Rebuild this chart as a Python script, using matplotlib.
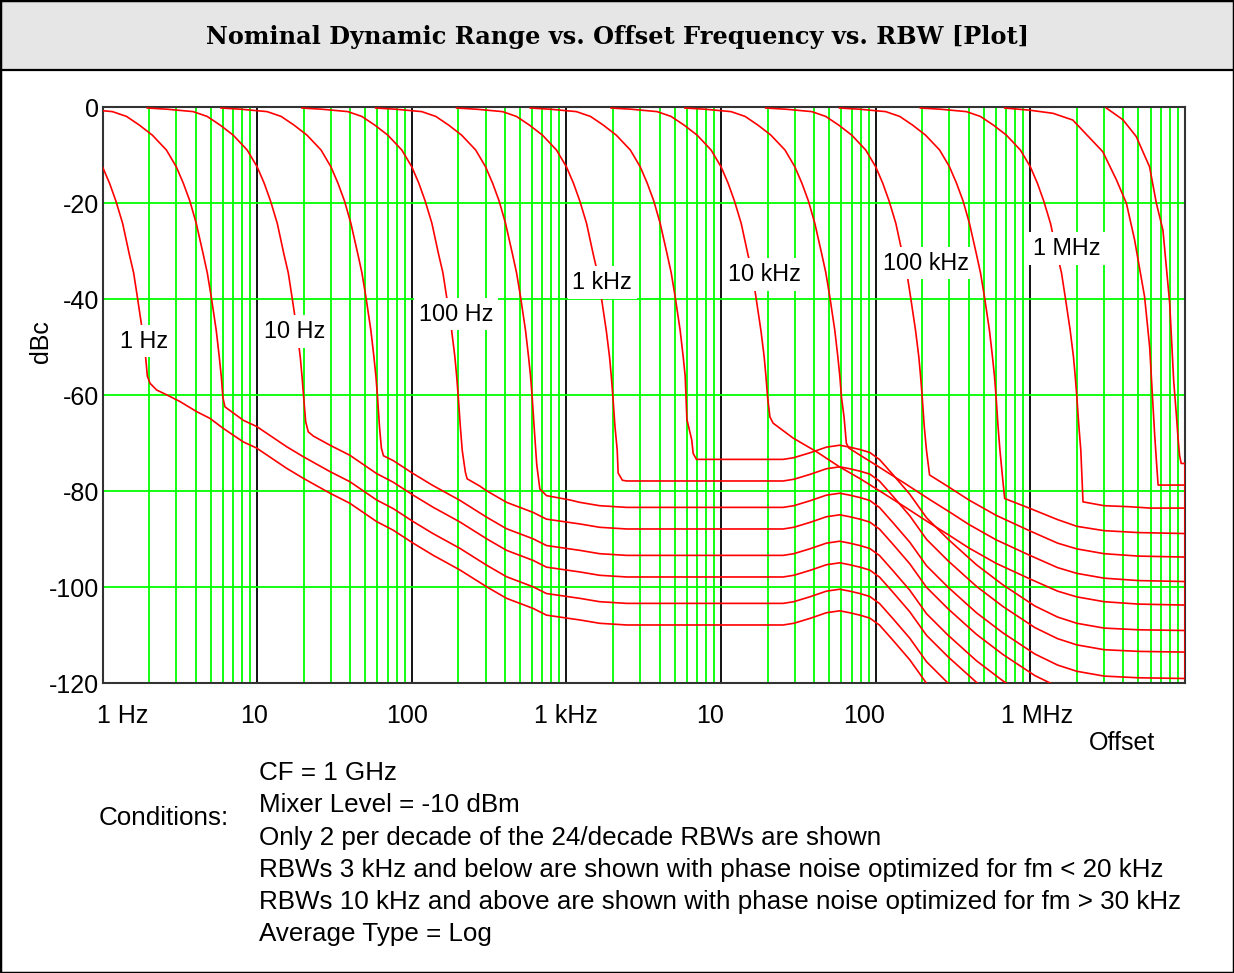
import numpy as np
import matplotlib.pyplot as plt
from matplotlib.patches import Rectangle
from matplotlib.lines import Line2D
from matplotlib.ticker import LogLocator, NullFormatter
from matplotlib import transforms

plt.rcParams['font.family'] = ['Liberation Sans', 'DejaVu Sans']

# ---- curves: offset (Hz) and level (dBc), one pair per RBW ----
f_1 = [0.195, 0.262, 0.386, 0.475, 0.576, 0.70, 0.862, 1.0, 1.11, 1.22, 1.35, 1.49, 1.59, 1.68, 1.81, 1.90, 1.95,
       2.03, 2.24, 2.60, 3.17, 4.06, 4.95, 6.04, 8.13, 9.93, 15.5, 19.9, 29.6, 39.8, 59.2, 75.8, 102, 137, 205, 305,
       410, 609, 743, 1050, 1220, 1640, 2450, 25200, 29500, 37400, 48000, 58500, 67900, 79000, 91400, 106000,
       129000, 166000, 213000, 293000]
db_1 = [-0.15, -0.4, -0.9, -1.9, -3.7, -5.8, -8.9, -12.4, -15.8, -19.5, -24.2, -30.6, -34.5, -39.5, -46.5, -52, -56,
        -57.5, -58.9, -59.9, -61.3, -63.4, -64.8, -66.9, -69.7, -71.0, -75.2, -77.3, -80.4, -82.5, -86.3, -88.1, -90.8,
        -93.3, -96.4, -99.9, -102.3, -104.4, -105.8, -106.5, -106.8, -107.5, -107.85, -107.85, -107.5, -106.5, -105.3,
        -104.9, -105.3, -105.8, -106.4, -107.9, -111.0, -115.1, -120.0, -124.5]

f_3 = [0.584, 0.786, 1.16, 1.43, 1.73, 2.10, 2.59, 3.0, 3.33, 3.67, 4.04, 4.48, 4.76, 5.05, 5.44, 5.69, 5.86, 6.01,
       6.19, 8.13, 9.93, 15.5, 19.9, 29.6, 39.8, 59.2, 75.8, 102, 137, 205, 305, 410, 609, 743, 1050, 1220, 1640,
       2450, 25200, 29500, 37400, 48000, 58500, 67900, 79000, 91400, 106000, 129000, 166000, 213000, 293000, 448000]
db_3 = [-0.15, -0.4, -0.9, -1.9, -3.7, -5.8, -8.9, -12.4, -15.8, -19.5, -24.2, -30.6, -34.5, -39.5, -46.5, -52, -56,
        -60.5, -62.4, -65.2, -66.5, -70.7, -72.8, -75.9, -78.0, -81.8, -83.6, -86.3, -88.8, -91.9, -95.4, -97.8, -99.9,
        -101.3, -102.0, -102.3, -103.0, -103.35, -103.35, -103.0, -102.0, -100.8, -100.4, -100.8, -101.3, -101.9,
        -103.4, -106.5, -110.6, -115.5, -119.95, -125.3]

f_10 = [1.95, 2.62, 3.86, 4.75, 5.76, 7.0, 8.62, 10, 11.1, 12.2, 13.5, 14.9, 15.9, 16.8, 18.1, 19.0, 19.5, 20.0,
        20.6, 21.4, 23.1, 29.6, 39.8, 59.2, 75.8, 102, 137, 205, 305, 410, 609, 743, 1050, 1220, 1640, 2450, 25200,
        29500, 37400, 48000, 58500, 67900, 79000, 91400, 106000, 129000, 166000, 213000, 293000, 448000, 665000]
db_10 = [-0.15, -0.4, -0.9, -1.9, -3.7, -5.8, -8.9, -12.4, -15.8, -19.5, -24.2, -30.6, -34.5, -39.5, -46.5, -52, -56,
         -60.5, -65.5, -67.6, -68.5, -70.4, -72.5, -76.3, -78.1, -80.8, -83.3, -86.4, -89.9, -92.3, -94.4, -95.8,
         -96.5, -96.8, -97.5, -97.85, -97.85, -97.5, -96.5, -95.3, -94.9, -95.3, -95.8, -96.4, -97.9, -101.0, -105.1,
         -110.0, -114.45, -119.8, -124.0]

f_30 = [5.84, 7.86, 11.6, 14.3, 17.3, 21.0, 25.9, 30, 33.3, 36.7, 40.4, 44.8, 47.6, 50.5, 54.4, 56.9, 58.6, 60.1,
        61.8, 63.6, 65.6, 75.8, 102, 137, 205, 305, 410, 609, 743, 1050, 1220, 1640, 2450, 25200, 29500, 37400,
        48000, 58500, 67900, 79000, 91400, 106000, 129000, 166000, 213000, 293000, 448000, 665000, 1070000]
db_30 = [-0.15, -0.4, -0.9, -1.9, -3.7, -5.8, -8.9, -12.4, -15.8, -19.5, -24.2, -30.6, -34.5, -39.5, -46.5, -52, -56,
         -60.5, -66.5, -71.0, -72.6, -73.6, -76.3, -78.8, -81.9, -85.4, -87.8, -89.9, -91.3, -92.0, -92.3, -93.0,
         -93.35, -93.35, -93.0, -92.0, -90.8, -90.4, -90.8, -91.3, -91.9, -93.4, -96.5, -100.6, -105.5, -109.95,
         -115.3, -119.5, -123.9]

f_100 = [19.5, 26.2, 38.6, 47.5, 57.6, 70.0, 86.2, 100, 111, 122, 135, 149, 159, 168, 181, 190, 195, 200, 206, 212,
         222, 228, 275, 305, 410, 609, 743, 1050, 1220, 1640, 2450, 25200, 29500, 37400, 48000, 58500, 67900, 79000,
         91400, 106000, 129000, 166000, 213000, 293000, 448000, 665000, 1070000, 1500000, 2000000]
db_100 = [-0.15, -0.4, -0.9, -1.9, -3.7, -5.8, -8.9, -12.4, -15.8, -19.5, -24.2, -30.6, -34.5, -39.5, -46.5, -52, -56,
          -60.5, -66.5, -71.5, -76.0, -77.4, -78.9, -79.9, -82.3, -84.4, -85.8, -86.5, -86.8, -87.5, -87.85, -87.85,
          -87.5, -86.5, -85.3, -84.9, -85.3, -85.8, -86.4, -87.9, -91.0, -95.1, -100.0, -104.45, -109.8, -114.0,
          -118.4, -120.7, -122.0]

f_300 = [58.4, 78.6, 116, 143, 173, 210, 259, 300, 333, 367, 404, 448, 476, 505, 544, 569, 586, 601, 618, 643, 673,
         743, 1050, 1220, 1640, 2450, 25200, 29500, 37400, 48000, 58500, 67900, 79000, 91400, 106000, 129000, 166000,
         213000, 293000, 448000, 665000, 1070000, 1500000, 2000000, 3000000, 5000000, 10000000]
db_300 = [-0.15, -0.4, -0.9, -1.9, -3.7, -5.8, -8.9, -12.4, -15.8, -19.5, -24.2, -30.6, -34.5, -39.5, -46.5, -52, -56,
          -60.5, -66.5, -74.5, -79.5, -80.9, -81.8, -82.3, -83.0, -83.35, -83.35, -83.0, -82.0, -80.8, -80.4, -80.8,
          -81.3, -81.9, -83.4, -86.5, -90.6, -95.5, -99.95, -105.3, -109.5, -113.9, -116.2, -117.5, -118.5, -118.85,
          -119.0]

f_1k = [195, 262, 386, 475, 576, 700, 862, 1000, 1110, 1220, 1350, 1490, 1590, 1680, 1810, 1900, 1950, 2000, 2060,
        2130, 2160, 2300, 2450, 25200, 29500, 37400, 48000, 58500, 67900, 79000, 91400, 106000, 129000, 166000,
        213000, 293000, 448000, 665000, 1070000, 1500000, 2000000, 3000000, 5000000, 10000000]
db_1k = [-0.15, -0.4, -0.9, -1.9, -3.7, -5.8, -8.9, -12.4, -15.8, -19.5, -24.2, -30.6, -34.5, -39.5, -46.5, -52, -56,
         -60.5, -66.5, -71.4, -76.2, -77.7, -77.85, -77.85, -77.5, -76.5, -75.3, -74.9, -75.3, -75.8, -76.4, -77.9,
         -81.0, -85.1, -90.0, -94.45, -99.8, -104.0, -108.4, -110.7, -112.0, -113.0, -113.35, -113.5]

f_3k = [584, 786, 1160, 1430, 1730, 2100, 2590, 3000, 3330, 3670, 4040, 4480, 4760, 5050, 5440, 5690, 5860, 6010,
        6460, 6600, 6930, 25200, 29500, 37400, 48000, 58500, 67900, 79000, 91400, 106000, 129000, 166000, 213000,
        293000, 448000, 665000, 1070000, 1500000, 2000000, 3000000, 5000000, 10000000]
db_3k = [-0.15, -0.4, -0.9, -1.9, -3.7, -5.8, -8.9, -12.4, -15.8, -19.5, -24.2, -30.6, -34.5, -39.5, -46.5, -52, -56,
         -65.0, -69.3, -72.1, -73.35, -73.35, -73.0, -72.0, -70.8, -70.4, -70.8, -71.3, -71.9, -73.4, -76.5, -80.6,
         -85.5, -89.95, -95.3, -99.5, -103.9, -106.2, -107.5, -108.5, -108.85, -109.0]

f_10k = [1945, 2620, 3860, 4750, 5760, 7000, 8620, 10000, 11100, 12200, 13500, 14900, 15900, 16800, 18100, 19000,
         19500, 20000, 20700, 21700, 29200, 41400, 58300, 78600, 100000, 150000, 223000, 300000, 400000, 600000,
         1000000, 1500000, 2000000, 3000000, 5000000, 10000000]
db_10k = [-0.15, -0.4, -0.9, -1.9, -3.7, -5.8, -8.9, -12.4, -15.8, -19.5, -24.2, -30.6, -34.5, -39.5, -46.5, -52,
          -56, -60.5, -64.5, -65.8, -68.9, -71.75, -74.9, -77.3, -79.4, -83.0, -86.6, -89.2, -91.8, -95.0, -98.3,
          -100.8, -102.0, -103.0, -103.5, -103.7]

f_30k = [5835, 7860, 11600, 14300, 17300, 21000, 25900, 30000, 33300, 36700, 40400, 44800, 47600, 50500, 54400,
         56900, 58600, 60100, 62400, 64600, 67100, 78600, 100000, 150000, 223000, 300000, 400000, 600000, 1000000,
         1500000, 2000000, 3000000, 5000000, 10000000]
db_30k = [-0.15, -0.4, -0.9, -1.9, -3.7, -5.8, -8.9, -12.4, -15.8, -19.5, -24.2, -30.6, -34.5, -39.5, -46.5, -52,
          -56, -60.5, -64.5, -70.0, -71.0, -72.4, -74.5, -78.1, -81.7, -84.3, -86.9, -90.1, -93.4, -95.9, -97.1,
          -98.1, -98.6, -98.8]

f_100k = [19450, 26200, 38600, 47500, 57600, 70000, 86200, 100000, 111000, 122000, 135000, 149000, 159000, 168000,
          181000, 190000, 195000, 200000, 206000, 213000, 223000, 300000, 400000, 600000, 1000000, 1500000, 2000000,
          3000000, 5000000, 10000000]
db_100k = [-0.15, -0.4, -0.9, -1.9, -3.7, -5.8, -8.9, -12.4, -15.8, -19.5, -24.2, -30.6, -34.5, -39.5, -46.5, -52,
           -56, -60.5, -66.5, -71.5, -76.6, -79.2, -81.8, -85.0, -88.3, -90.8, -92.0, -93.0, -93.5, -93.7]

f_300k = [58400, 78600, 116000, 143000, 173000, 210000, 259000, 300000, 333000, 367000, 404000, 448000, 476000,
          505000, 544000, 569000, 586000, 601000, 618000, 636000, 665000, 682000, 1000000, 1500000, 2000000, 3000000,
          5000000, 10000000]
db_300k = [-0.15, -0.4, -0.9, -1.9, -3.7, -5.8, -8.9, -12.4, -15.8, -19.5, -24.2, -30.6, -34.5, -39.5, -46.5, -52,
           -56, -60.5, -66.5, -71.5, -78.0, -81.5, -83.6, -85.9, -87.3, -88.2, -88.6, -88.8]

f_1m = [194500, 262000, 386000, 475000, 576000, 700000, 862000, 1000000, 1110000, 1220000, 1350000, 1490000,
        1590000, 1680000, 1810000, 1900000, 1950000, 2000000, 2060000, 2120000, 2190000, 3000000, 4300000, 6000000,
        10000000]
db_1m = [-0.15, -0.4, -0.9, -1.9, -3.7, -5.8, -8.9, -12.4, -15.8, -19.5, -24.2, -30.6, -34.5, -39.5, -46.5, -52,
         -56, -60.5, -66.5, -71.5, -82.2, -83.0, -83.2, -83.5, -83.5]

f_3m = [682000, 989000, 1400000, 1880000, 2940000, 3600000, 4180000, 4720000, 5480000, 5910000, 6180000, 6360000,
        6550000, 6700000, 10000000]
db_3m = [-0.15, -0.6, -1.25, -2.65, -9.25, -15.1, -20, -27.6, -39.5, -50, -61, -68, -74.2, -78.7, -78.7]

f_8m = [3100000, 3970000, 4840000, 5900000, 6530000, 7200000, 7960000, 8450000, 8790000, 9000000, 9220000, 9450000,
        10000000, 10000000]
db_8m = [-0.15, -2.6, -6.1, -12.4, -20, -25.6, -40.8, -57, -64, -68.6, -72.5, -74.2, -74.2, -118.6]

curves = [(f_1, db_1), (f_3, db_3), (f_10, db_10), (f_30, db_30), (f_100, db_100), (f_300, db_300),
          (f_1k, db_1k), (f_3k, db_3k), (f_10k, db_10k), (f_30k, db_30k), (f_100k, db_100k),
          (f_300k, db_300k), (f_1m, db_1m), (f_3m, db_3m), (f_8m, db_8m)]

# RBW labels sitting on the curves
rbw_labels = ["1 Hz", "10 Hz", "100 Hz", "1 kHz", "10 kHz", "100 kHz", "1 MHz"]
rbw_label_f = [1.855, 17.5, 193, 1706, 19170, 212600, 1730000]
rbw_label_db = [-48.7, -46.7, -43.1, -36.5, -34.8, -32.5, -29.4]

x_ticks = [1, 10, 100, 1e3, 1e4, 1e5, 1e6]
x_tick_labels = ["1 Hz", "10", "100", "1 kHz", "10", "100", "1 MHz"]
x_tick_dx = [20.5, -3, -4.5, 0, -11, -12, 7]   # pixel nudges of the labels
y_ticks = [0, -20, -40, -60, -80, -100, -120]

conditions = ["CF = 1 GHz",
              "Mixer Level = -10 dBm",
              "Only 2 per decade of the 24/decade RBWs are shown",
              "RBWs 3 kHz and below are shown with phase noise optimized for fm < 20 kHz",
              "RBWs 10 kHz and above are shown with phase noise optimized for fm > 30 kHz",
              "Average Type = Log"]

W, H = 1234, 973
fig = plt.figure(figsize=(W / 100, H / 100), dpi=100)

# title band and outer frame
fig.add_artist(Rectangle((0, 1 - 70 / H), 1, 70 / H, transform=fig.transFigure,
                         facecolor='#e6e6e6', edgecolor='none', zorder=0))
fig.add_artist(Line2D([0, 1], [1 - 70 / H] * 2, transform=fig.transFigure, color='black', lw=1.6))
fig.add_artist(Rectangle((0, 0), 1, 1, transform=fig.transFigure, fill=False,
                         edgecolor='black', lw=2.5))
fig.text(617 / W, 1 - 37 / H, "Nominal Dynamic Range vs. Offset Frequency vs. RBW [Plot]",
         ha='center', va='center', fontsize=17.3, fontweight='bold', family='DejaVu Serif')

ax = fig.add_axes([102.5 / W, 1 - 683.3 / H, (1185 - 102.5) / W, (683.3 - 107.3) / H])
ax.set_xscale('log')
ax.set_xlim(1, 1e7)
ax.set_ylim(-120, 0)

ax.set_xticks(x_ticks)
ax.set_xticklabels([])
ax.xaxis.set_minor_locator(LogLocator(base=10, subs=np.arange(2, 10), numticks=30))
ax.xaxis.set_minor_formatter(NullFormatter())
ax.set_yticks(y_ticks)
ax.set_yticklabels([str(v) for v in y_ticks], fontsize=18)
ax.tick_params(which='both', length=0)
ax.tick_params(axis='y', pad=2.5)

ax.set_axisbelow(True)
ax.xaxis.grid(True, which='minor', color='#00ff00', lw=1.3)
ax.xaxis.grid(True, which='major', color='black', lw=1.3)
ax.yaxis.grid(True, which='major', color='#00ff00', lw=1.3)
for sp in ax.spines.values():
    sp.set_color('#333333')
    sp.set_linewidth(1.5)

for f, d in curves:
    ax.plot(f, d, color='red', lw=1.2, zorder=3)

for s, f, d in zip(rbw_labels, rbw_label_f, rbw_label_db):
    ax.text(f, d, s, ha='center', va='center', fontsize=16.8, zorder=5,
            bbox=dict(facecolor='white', edgecolor='none', boxstyle='square,pad=0.2'))

# x tick labels, placed under the decade lines
base = transforms.blended_transform_factory(ax.transData, ax.transAxes)
for x, s, dx in zip(x_ticks, x_tick_labels, x_tick_dx):
    tr = transforms.offset_copy(base, fig=fig, x=dx, y=0, units='dots')
    ax.text(x, -(716 - 683.3) / 576, s, transform=tr, ha='center', va='center', fontsize=18)

fig.text(41 / W, 1 - 342 / H, "dBc", rotation=90, ha='center', va='center', fontsize=18)
fig.text(1155 / W, 1 - 743 / H, "Offset", ha='right', va='center', fontsize=18)

fig.text(99 / W, 1 - 818 / H, "Conditions:", ha='left', va='center', fontsize=18.7)
for i, line in enumerate(conditions):
    fig.text(259 / W, 1 - (773 + 32.3 * i) / H, line, ha='left', va='center', fontsize=18.7)

fig.savefig("out.png", dpi=100)
